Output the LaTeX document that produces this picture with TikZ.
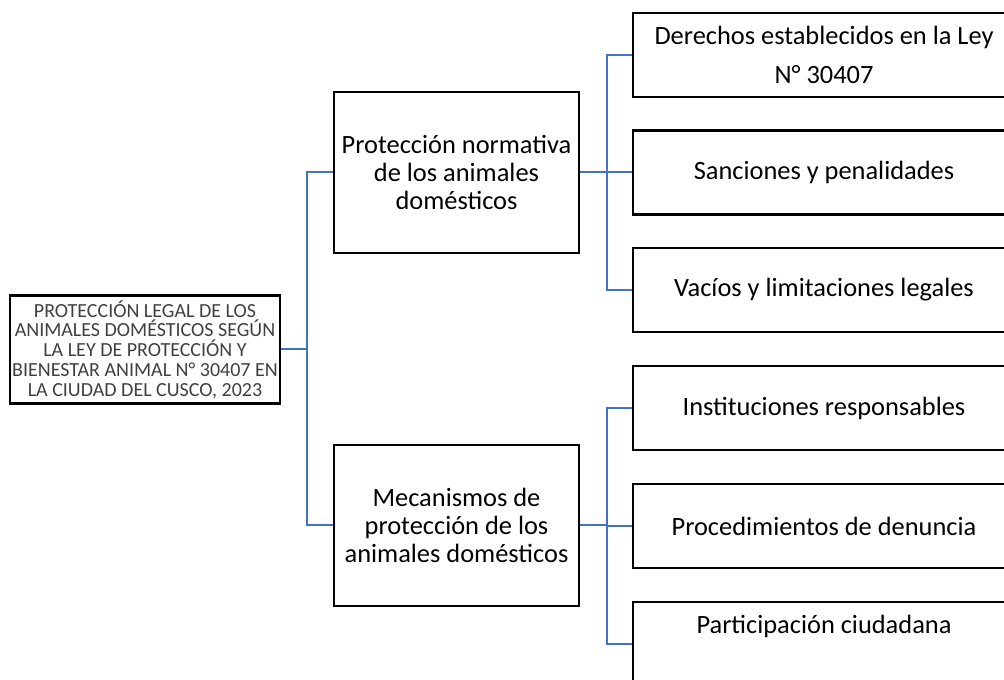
\documentclass[tikz,border=0pt]{standalone}
\usepackage{fontspec}
\setmainfont{Carlito}
\usepackage{tikz}
\newcommand{\pxsize}{0.75pt}
\definecolor{linkblue}{HTML}{4472C4}
\newcommand{\branch}[3]{
	\draw[conn] (#1.east) -- ++(#3,0) |- (#2.west);
}
\tikzset{
	rootbox/.style={draw, line width=2.2pt, inner sep=0pt, align=center,
		minimum width=202.5pt, minimum height=81pt, text=black!75,
		font=\fontsize{15}{14.8}\selectfont},
	midbox/.style={draw, line width=1.9pt, inner sep=0pt, align=center,
		minimum width=183.75pt, minimum height=120.75pt,
		font=\fontsize{19.8}{21}\selectfont},
	leafbox/.style={draw, line width=1.9pt, inner sep=0pt, align=center,
		minimum width=286.5pt, minimum height=63pt,
		font=\fontsize{19.8}{29.25}\selectfont},
	conn/.style={draw=linkblue, line width=1.5pt}
}
\begin{document}
\begin{tikzpicture}[x=\pxsize,y=-\pxsize]
	\useasboundingbox (0,0) rectangle (1004,680);
	\clip (0,0) rectangle (1004,680);

	\node[rootbox] (root) at (145,349.5) {PROTECCIÓN LEGAL DE LOS\\ANIMALES DOMÉSTICOS SEGÚN\\LA LEY DE PROTECCIÓN Y\\BIENESTAR ANIMAL N° 30407 EN\\LA CIUDAD DEL CUSCO, 2023};

	\node[midbox] (prot) at (456.5,172.5) {Protección normativa\\de los animales\\domésticos};
	\node[midbox] (meca) at (456.5,525.5) {Mecanismos de\\protección de los\\animales domésticos};

	\node[leafbox] (der) at (824,55) {Derechos establecidos en la Ley\\N° 30407};
	\node[leafbox] (san) at (824,172.5) {Sanciones y penalidades};
	\node[leafbox] (vac) at (824,290) {Vacíos y limitaciones legales};
	\node[leafbox] (ins) at (824,408) {Instituciones responsables};
	\node[leafbox] (pro) at (824,526) {Procedimientos de denuncia};
	\node[leafbox] (par) at (824,644) {Participación ciudadana\\\mbox{}};

	\branch{root}{prot}{26}
	\branch{root}{meca}{26}

	\branch{prot}{der}{27}
	\branch{prot}{san}{27}
	\branch{prot}{vac}{27}
	\branch{meca}{ins}{27}
	\branch{meca}{pro}{27}
	\branch{meca}{par}{27}

\end{tikzpicture}
\end{document}
